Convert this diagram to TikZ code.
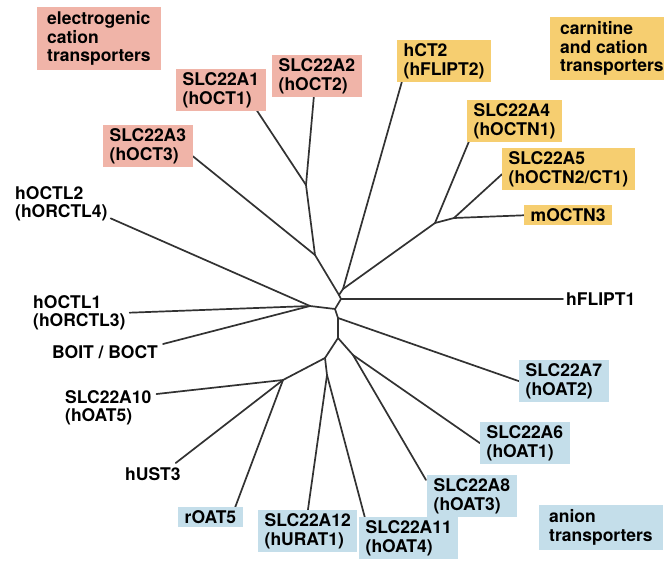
\documentclass[tikz,border=0pt]{standalone}
\usepackage{fontspec}
\setmainfont{TeX Gyre Heros}
\usetikzlibrary{calc,backgrounds}
\definecolor{cpink}{RGB}{240,180,168}
\definecolor{cyell}{RGB}{246,206,112}
\definecolor{cblue}{RGB}{196,222,234}
\definecolor{cline}{RGB}{50,50,50}
\tikzset{
  lbl/.style={anchor=north west, align=left, inner sep=0pt,
    font=\fontsize{17.5}{18.5}\selectfont\bfseries, text=black},
  boxed/.style={lbl, inner xsep=6.5pt, inner ysep=3.5pt},
  pinkbox/.style={boxed, fill=cpink},
  yellbox/.style={boxed, fill=cyell},
  bluebox/.style={boxed, fill=cblue},
  grp/.style={lbl, inner xsep=10pt, inner ysep=4.5pt},
  br/.style={draw=cline, line width=1.7pt, line cap=round, line join=round}
}
\begin{document}
\begin{tikzpicture}[x=1pt,y=-1pt]
\useasboundingbox (0,0) rectangle (664,562);
\clip (0,0) rectangle (664,562);

% internal nodes of the tree
\coordinate (jOCT12)  at (306,185);
\coordinate (jOCT123) at (315,255);
\coordinate (jA)      at (339,295);
\coordinate (jCarn)   at (343,289);
\coordinate (jOCTN1)  at (435,223);
\coordinate (jOCTN23) at (454,218);
\coordinate (jF)      at (341,299);
\coordinate (jC)      at (335,309);
\coordinate (jOCTL)   at (310,306);
\coordinate (jB)      at (338,318);
\coordinate (jL)      at (338,338);
\coordinate (jLR)     at (353,355);
\coordinate (jLL)     at (325,358);
\coordinate (jLLd)    at (327,375);
\coordinate (jLLL)    at (283,380);

% group labels
\node[grp, fill=cpink] (grpE) at (37,7) {electrogenic\\cation\\transporters};
\node[grp, fill=cyell] (grpC) at (550,17) {carnitine\\and cation\\transporters};
\node[grp, fill=cblue] (grpA) at (539,505) {anion\\transporters};

% leaf labels
\node[pinkbox] (a1) at (176,69) {SLC22A1\\(hOCT1)};
\node[pinkbox] (a2) at (272,55) {SLC22A2\\(hOCT2)};
\node[pinkbox] (a3) at (103,125) {SLC22A3\\(hOCT3)};
\node[lbl] (octl2) at (15,186) {hOCTL2\\(hORCTL4)};
\node[yellbox] (hct2) at (397,40) {hCT2\\(hFLIPT2)};
\node[yellbox] (a4) at (467,100) {SLC22A4\\(hOCTN1)};
\node[yellbox] (a5) at (502,148) {SLC22A5\\(hOCTN2/CT1)};
\node[yellbox] (moctn3) at (524,205) {mOCTN3};
\node[lbl, anchor=west] (hflipt1) at (566,299) {hFLIPT1};
\node[bluebox] (a7) at (519,360) {SLC22A7\\(hOAT2)};
\node[bluebox] (a6) at (480,422) {SLC22A6\\(hOAT1)};
\node[bluebox] (a8) at (427,475) {SLC22A8\\(hOAT3)};
\node[bluebox] (a11) at (359,517) {SLC22A11\\(hOAT4)};
\node[bluebox] (a12) at (258,510) {SLC22A12\\(hURAT1)};
\node[bluebox] (roat5) at (178,507) {rOAT5};
\node[lbl] (octl1) at (33,295) {hOCTL1\\(hORCTL3)};
\node[lbl] (boit) at (52,345) {BOIT / BOCT};
\node[lbl] (a10) at (65,390) {SLC22A10\\(hOAT5)};
\node[lbl] (hust3) at (125,467) {hUST3};

\begin{scope}[on background layer]
\fill[white] (0,0) rectangle (664,562);
% cation cluster
\draw[br] ($(a1.south east)+(-9,-1)$) -- (jOCT12);
\draw[br] ($(a2.south)+(-3,-1)$) -- (jOCT12);
\draw[br] ($(a3.east)+(0,10)$) -- (jOCT123);
\draw[br] (jOCT12) -- (jOCT123) -- (jA);
% carnitine cluster
\draw[br] ($(hct2.south west)+(5,-1)$) -- (jCarn);
\draw[br] ($(a4.south west)+(2,-1)$) -- (jOCTN1);
\draw[br] ($(a5.west)+(0,5)$) -- (jOCTN23);
\draw[br] (moctn3.west) -- (jOCTN23);
\draw[br] (jOCTN23) -- (jOCTN1) -- (jCarn) -- (jA);
% backbone
\draw[br] (jA) -- (jF) -- (jC) -- (jB) -- (jL);
\draw[br] (jF) -- ($(hflipt1.west)+(-3,0)$);
% OCTL cluster
\draw[br] ($(octl2.south east)+(3,-3)$) -- (jOCTL);
\draw[br] ($(octl1.east)+(4,0)$) -- (jOCTL);
\draw[br] ($(boit.north east)+(5,-1)$) -- (jOCTL);
\draw[br] (jOCTL) -- (jC);
% anion cluster
\draw[br] (jB) -- (a7.west);
\draw[br] (jL) -- (jLR);
\draw[br] (jLR) -- (a6.west);
\draw[br] (jLR) -- ($(a8.north west)+(-1,5)$);
\draw[br] (jL) -- (jLL) -- (jLLd);
\draw[br] (jLLd) -- ($(a12.north)+(0,1)$);
\draw[br] (jLLd) -- ($(a11.north west)+(6,1)$);
\draw[br] (jLL) -- (jLLL);
\draw[br] (jLLL) -- ($(a10.north east)+(5,4)$);
\draw[br] (jLLL) -- ($(hust3.north east)+(-5,-4)$);
\draw[br] (jLLL) -- ($(roat5.north east)+(-8,1)$);
\end{scope}
\end{tikzpicture}
\end{document}
